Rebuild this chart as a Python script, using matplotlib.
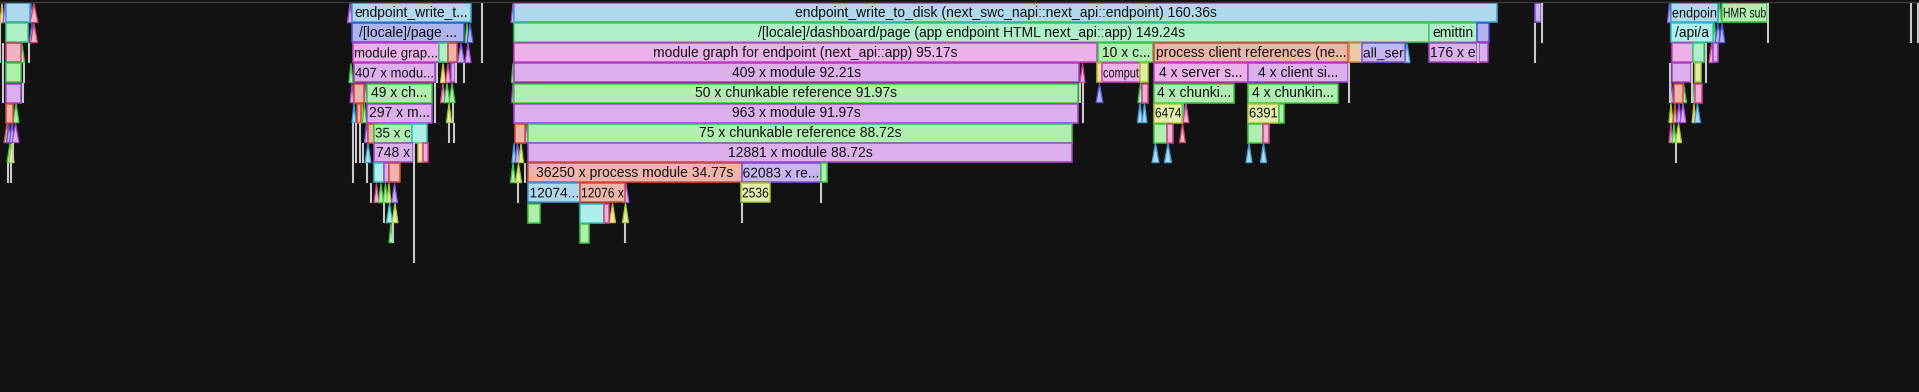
import matplotlib
matplotlib.use("Agg")
import matplotlib.pyplot as plt
from matplotlib.patheffects import AbstractPathEffect
from matplotlib.transforms import Affine2D

plt.rcParams['font.family'] = ['Liberation Sans', 'DejaVu Sans']

# flame graph of a next.js build trace
# x = seconds from the left edge of the view, depth = call depth (0 at top)
view_s = 313.05

# colour name -> (fill, border)
palette = {
    'blue':        ('#aed8ec', '#3aa0d8'),
    'mint':        ('#aeeec8', '#3ccc70'),
    'green':       ('#b0eeb0', '#40c840'),
    'orchid':      ('#eeb0ea', '#cc40c4'),
    'lavender':    ('#dcaeec', '#a444d0'),
    'salmon':      ('#eeb4aa', '#d84a3a'),
    'violet':      ('#c8b4f0', '#8050e0'),
    'periwinkle':  ('#b0b4ee', '#4a50d8'),
    'yellowgreen': ('#e2eea8', '#a8cc30'),
    'yellow':      ('#eee6a8', '#d0b830'),
    'cyan':        ('#b0eeec', '#30c8c0'),
    'pink':        ('#eeb0d4', '#d04090'),
    'rose':        ('#eeb4c4', '#d03a60'),
    'peach':       ('#eec8aa', '#e08a40'),
}

# (depth, start s, duration s, label, colour)
left_spans = [
    (0, 0.98, 3.92, '', 'blue'),
    (1, 0.98, 3.59, '', 'mint'),
    (2, 0.98, 2.45, '', 'rose'),
    (3, 0.98, 2.45, '', 'green'),
    (4, 0.98, 2.45, '', 'lavender'),
    (5, 0.98, 1.14, '', 'salmon'),
]

page_spans = [
    (0, 57.42, 19.41, 'endpoint_write_t...', 'blue'),
    (1, 57.42, 18.27, '/[locale]/page ...', 'periwinkle'),
    (2, 57.59, 14.03, 'module grap...', 'orchid'),
    (2, 71.61, 1.47, '', 'mint'),
    (2, 73.08, 1.47, '', 'salmon'),
    (3, 57.75, 13.21, '407 x modu...', 'lavender'),
    (3, 73.57, 0.65, '', 'lavender'),
    (4, 57.75, 1.63, '', 'salmon'),
    (4, 59.87, 10.60, '49 x ch...', 'green'),
    (5, 58.24, 0.65, '', 'salmon'),
    (5, 59.87, 10.60, '297 x m...', 'lavender'),
    (6, 60.03, 0.98, '', 'salmon'),
    (6, 61.01, 6.20, '35 x c', 'green'),
    (6, 67.21, 2.45, '', 'cyan'),
    (7, 61.01, 6.36, '748 x', 'lavender'),
    (7, 68.19, 0.82, '', 'yellow'),
    (7, 69.00, 0.82, '', 'pink'),
    (8, 61.01, 1.63, '', 'cyan'),
    (8, 62.64, 0.82, '', 'lavender'),
    (8, 63.46, 1.79, '', 'salmon'),
]

dashboard_spans = [
    (0, 83.85, 160.36, 'endpoint_write_to_disk (next_swc_napi::next_api::endpoint) 160.36s', 'blue'),
    (0, 250.40, 1.06, '', 'violet'),
    (1, 83.85, 149.24, '/[locale]/dashboard/page (app endpoint HTML next_api::app) 149.24s', 'mint'),
    (1, 233.11, 7.83, 'emittin', 'mint'),
    (1, 240.94, 1.96, '', 'periwinkle'),
    (2, 83.85, 95.17, 'module graph for endpoint (next_api::app) 95.17s', 'orchid'),
    (2, 179.12, 9.05, '10 x c...', 'green'),
    (2, 188.25, 31.73, 'process client references (ne...', 'salmon'),
    (2, 220.06, 2.12, '', 'peach'),
    (2, 222.18, 7.01, 'all_ser', 'violet'),
    (2, 233.11, 7.83, '176 x e', 'lavender'),
    (2, 241.27, 1.39, '', 'lavender'),
    (3, 83.85, 92.21, '409 x module 92.21s', 'lavender'),
    (3, 178.95, 0.82, '', 'yellow'),
    (3, 179.77, 6.20, 'comput', 'orchid'),
    (3, 185.97, 1.31, '', 'yellowgreen'),
    (3, 188.25, 15.33, '4 x server s...', 'orchid'),
    (3, 203.59, 16.31, '4 x client si...', 'lavender'),
    (4, 83.85, 91.97, '50 x chunkable reference 91.97s', 'green'),
    (4, 186.29, 0.98, '', 'pink'),
    (4, 188.25, 13.05, '4 x chunki...', 'green'),
    (4, 203.59, 14.68, '4 x chunkin...', 'green'),
    (5, 83.85, 91.97, '963 x module 91.97s', 'lavender'),
    (5, 188.25, 4.65, '6474', 'yellowgreen'),
    (5, 203.59, 4.98, '6391', 'yellowgreen'),
    (5, 208.64, 0.90, '', 'green'),
    (6, 84.01, 1.63, '', 'salmon'),
    (6, 86.13, 88.72, '75 x chunkable reference 88.72s', 'green'),
    (6, 188.25, 2.12, '', 'green'),
    (6, 190.37, 0.98, '', 'pink'),
    (6, 203.59, 2.45, '', 'green'),
    (6, 206.03, 0.98, '', 'pink'),
    (7, 86.13, 88.72, '12881 x module 88.72s', 'lavender'),
    (8, 86.21, 34.77, '36250 x process module 34.77s', 'salmon'),
    (8, 120.98, 12.87, '62083 x re...', 'violet'),
    (8, 133.85, 0.98, '', 'green'),
    (9, 86.21, 8.40, '12074...', 'blue'),
    (9, 94.62, 7.34, '12076 x', 'salmon'),
    (9, 120.88, 4.73, '2536', 'yellowgreen'),
    (10, 86.21, 1.96, '', 'green'),
    (10, 94.62, 3.92, '', 'cyan'),
    (10, 98.53, 0.82, '', 'pink'),
    (11, 94.62, 1.39, '', 'green'),
]

api_spans = [
    (0, 272.59, 7.67, 'endpoin', 'blue'),
    (0, 280.91, 7.34, 'HMR sub', 'green'),
    (1, 272.59, 6.85, '/api/a', 'cyan'),
    (2, 272.75, 3.43, '', 'orchid'),
    (2, 276.18, 1.79, '', 'mint'),
    (2, 279.44, 0.82, '', 'lavender'),
    (3, 272.75, 3.10, '', 'lavender'),
    (3, 276.51, 0.90, '', 'yellowgreen'),
    (4, 273.08, 1.39, '', 'salmon'),
    (4, 276.59, 0.98, '', 'pink'),
]

# items too short for a box, drawn as wedges: (depth, start s, duration s, colour)
wedges = [
    (0, 0.00, 0.65, 'yellow'), (0, 0.49, 0.65, 'violet'), (0, 4.73, 0.82, 'periwinkle'),
    (0, 4.89, 1.31, 'rose'), (1, 4.73, 0.98, 'periwinkle'), (1, 4.98, 1.14, 'rose'),
    (2, 3.18, 0.82, 'green'), (5, 2.12, 0.98, 'green'), (6, 0.65, 0.98, 'salmon'),
    (6, 1.06, 0.82, 'periwinkle'), (6, 1.55, 0.82, 'violet'), (6, 1.96, 1.14, 'lavender'),
    (7, 1.14, 0.98, 'green'), (7, 1.47, 0.82, 'yellowgreen'),

    (0, 56.69, 0.82, 'lavender'), (1, 75.86, 0.65, 'green'), (1, 76.18, 0.98, 'periwinkle'),
    (2, 74.63, 1.14, 'violet'), (2, 75.86, 0.98, 'lavender'), (3, 56.93, 0.65, 'green'),
    (3, 71.86, 0.82, 'yellow'), (3, 72.67, 0.82, 'pink'), (4, 57.10, 0.65, 'lavender'),
    (4, 59.30, 0.65, 'violet'), (4, 71.86, 0.82, 'pink'), (4, 72.43, 0.98, 'green'),
    (4, 73.25, 0.98, 'green'), (5, 57.42, 0.65, 'blue'), (5, 58.81, 0.49, 'yellow'),
    (5, 59.13, 0.65, 'green'), (5, 72.84, 0.82, 'yellowgreen'), (6, 59.46, 0.65, 'violet'),
    (7, 59.54, 0.98, 'blue'), (9, 61.01, 0.82, 'pink'), (9, 61.74, 0.82, 'green'),
    (9, 62.48, 0.82, 'green'), (9, 63.13, 0.65, 'yellowgreen'), (9, 63.87, 0.98, 'violet'),
    (10, 63.05, 0.98, 'cyan'), (10, 63.95, 0.98, 'yellowgreen'), (11, 63.46, 0.65, 'green'),

    (0, 83.36, 0.65, 'lavender'), (3, 83.44, 0.49, 'green'), (3, 176.18, 0.82, 'pink'),
    (4, 83.44, 0.49, 'lavender'), (4, 178.79, 1.14, 'periwinkle'), (4, 185.64, 0.82, 'green'),
    (5, 185.56, 0.82, 'blue'), (5, 186.29, 0.82, 'blue'), (5, 192.90, 0.33, 'cyan'),
    (5, 192.98, 0.98, 'pink'), (6, 85.56, 0.65, 'violet'), (6, 192.41, 0.98, 'rose'),
    (7, 83.52, 0.65, 'blue'), (7, 84.01, 0.82, 'violet'), (7, 84.58, 0.82, 'yellowgreen'),
    (7, 187.93, 1.14, 'blue'), (7, 189.96, 1.14, 'blue'), (7, 203.26, 0.98, 'blue'),
    (7, 205.63, 0.98, 'blue'), (8, 83.28, 0.82, 'green'), (8, 84.09, 0.98, 'yellowgreen'),
    (9, 101.63, 0.98, 'violet'), (10, 99.43, 0.98, 'yellow'), (10, 101.55, 0.98, 'yellowgreen'),
    (2, 229.04, 0.98, 'blue'),

    (0, 272.02, 0.65, 'violet'), (0, 280.18, 0.65, 'green'), (1, 279.44, 0.49, 'green'),
    (1, 279.77, 0.98, 'periwinkle'), (1, 280.42, 0.98, 'periwinkle'), (2, 275.77, 0.49, 'blue'),
    (2, 278.79, 0.82, 'pink'), (4, 272.35, 0.65, 'violet'), (4, 274.14, 0.98, 'green'),
    (4, 276.10, 0.49, 'green'), (5, 272.26, 0.65, 'yellowgreen'), (5, 272.92, 0.65, 'salmon'),
    (5, 273.49, 0.82, 'violet'), (5, 274.06, 0.98, 'lavender'), (5, 276.02, 0.65, 'yellow'),
    (5, 276.42, 0.98, 'blue'), (6, 272.26, 0.65, 'pink'), (6, 272.76, 0.65, 'green'),
    (6, 273.33, 0.98, 'yellowgreen'),
]

# hair-thin items, drawn as grey stubs: (time s, first depth, last depth)
stubs = [
    (0.08, 1, 2), (0.49, 2, 4), (4.73, 2, 2), (3.92, 3, 3), (3.75, 4, 4),
    (2.20, 7, 7), (1.31, 8, 8), (1.79, 8, 8),
    (78.55, 0, 2), (71.29, 3, 3), (74.39, 3, 3), (75.69, 3, 3), (70.96, 4, 5),
    (73.82, 5, 5), (57.58, 6, 8), (58.07, 6, 7), (58.73, 6, 7), (59.22, 7, 7),
    (73.25, 6, 6), (74.06, 6, 6), (67.54, 7, 12), (59.95, 8, 8), (60.52, 9, 9),
    (62.64, 10, 10), (64.19, 11, 11),
    (176.18, 4, 4), (176.67, 4, 5), (85.64, 8, 8), (84.50, 9, 9), (134.01, 9, 9),
    (121.04, 10, 10), (101.96, 11, 11), (220.06, 3, 4), (241.19, 2, 2),
    (250.40, 1, 2), (251.55, 0, 1),
    (288.41, 0, 1), (278.38, 2, 3), (276.10, 3, 4), (272.51, 3, 4), (273.41, 7, 7),
    (311.74, 0, 1), (312.88, 0, 1),
]


class Squeeze(AbstractPathEffect):
    """squash glyphs sideways around cx, like canvas fillText with maxWidth"""

    def __init__(self, sx, cx):
        super().__init__()
        self.sx, self.cx = sx, cx

    def draw_path(self, renderer, gc, tpath, affine, rgbFace=None):
        squash = Affine2D().translate(-self.cx, 0).scale(self.sx, 1).translate(self.cx, 0)
        renderer.draw_path(gc, tpath, affine + squash, rgbFace)


bg = '#121212'
fig = plt.figure(figsize=(19.19, 3.92), dpi=100, facecolor=bg)
ax = fig.add_axes([0, 0, 1, 1])
ax.set_facecolor(bg)
ax.set_xlim(0, view_s)
ax.set_ylim(19.45, -0.15)  # 20 px per depth row, 3 px top margin
ax.axis('off')

ax.axhline(-0.06, color='#3a3a3a', lw=1.0)

for t, d0, d1 in stubs:
    ax.vlines(t, d0, d1 + 1, color='#c8c8c8', lw=1.5)

for d, s, w, c in wedges:
    fill, edge = palette[c]
    ax.fill([s, s + w, s + w / 2], [d + 0.98, d + 0.98, d + 0.02],
            facecolor=fill, edgecolor=edge, lw=0.9)

texts = []
for spans in [left_spans, page_spans, dashboard_spans, api_spans]:
    bars = ax.barh([d + 0.5 for d, *_ in spans], [w for _, _, w, _, _ in spans],
                   left=[s for _, s, _, _, _ in spans], height=0.95,
                   color=[palette[c][0] for *_, c in spans],
                   edgecolor=[palette[c][1] for *_, c in spans], linewidth=1.1)
    for (d, s, w, label, c), patch in zip(spans, bars.patches):
        if not label:
            continue
        t = ax.text(s + w / 2, d + 0.52, label, ha='center', va='center',
                    fontsize=10, color='#111111')
        t.set_clip_path(patch)
        texts.append((t, w))

# labels wider than their box get squashed to fit
fig.canvas.draw()
renderer = fig.canvas.get_renderer()
px = view_s / fig.bbox.width
for t, w in texts:
    room = w / px - 2
    box = t.get_window_extent(renderer)
    if box.width > room:
        t.set_path_effects([Squeeze(room / box.width, (box.x0 + box.x1) / 2)])

fig.savefig('out.png', dpi=100, facecolor=bg)
